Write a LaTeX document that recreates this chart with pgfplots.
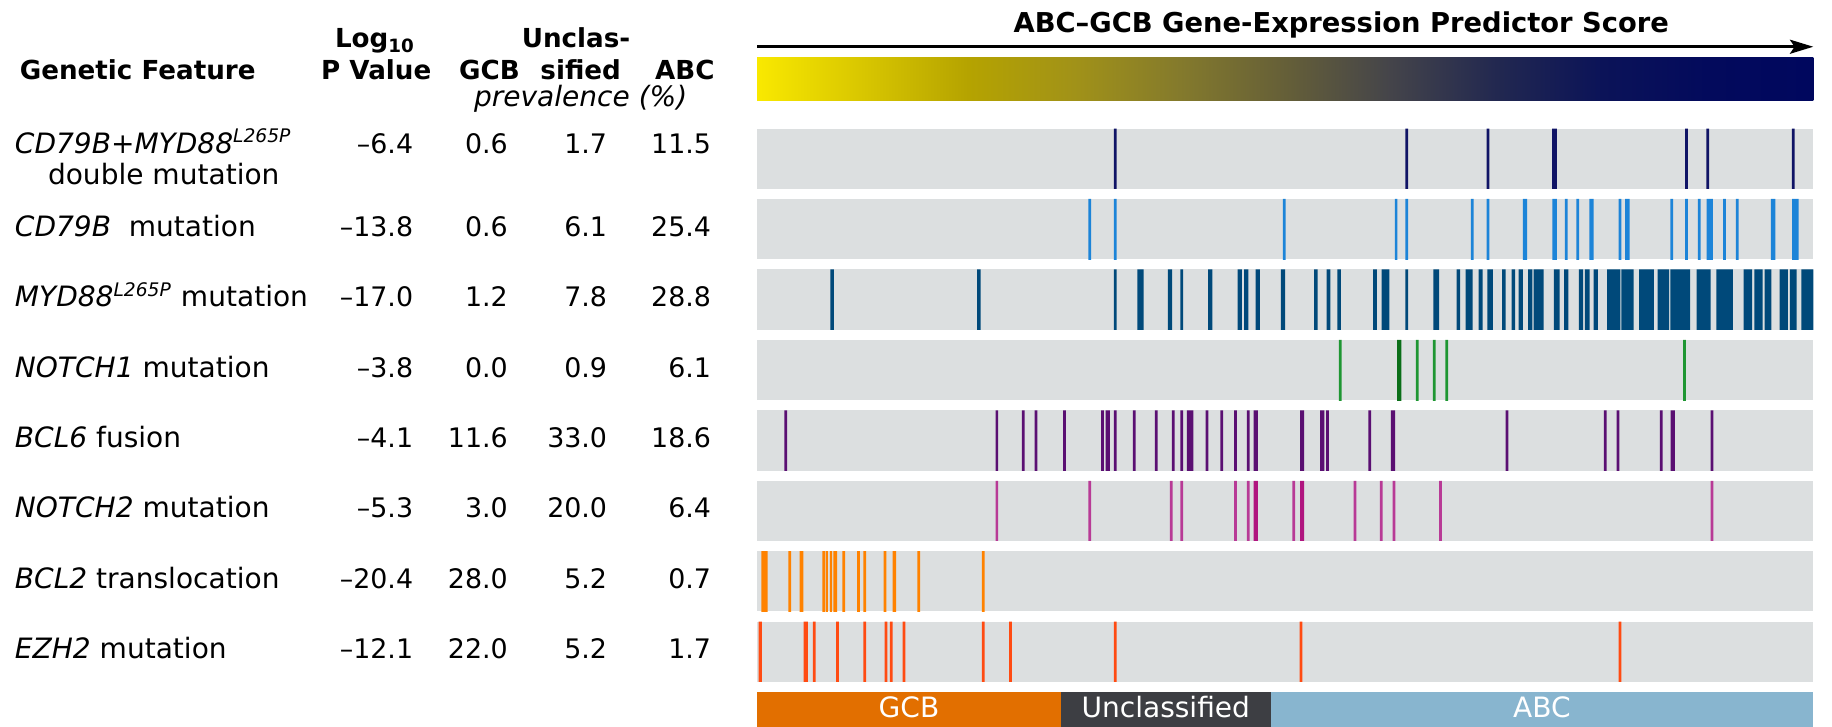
\documentclass[border=0pt]{standalone}
\usepackage{fontspec}
\setmainfont{DejaVu Sans}
\usepackage{pgfplots}
\pgfplotsset{compat=1.18}
\usetikzlibrary{arrows.meta}

\definecolor{rowgray}{HTML}{DCDFE0}
\definecolor{c1}{HTML}{101466}
\definecolor{c2}{HTML}{1C84D8}
\definecolor{c3}{HTML}{00497A}
\definecolor{c4}{HTML}{1E9632}
\definecolor{c4d}{HTML}{0A6E18}
\definecolor{c5}{HTML}{5A0F72}
\definecolor{c6}{HTML}{B83A96}
\definecolor{c6d}{HTML}{B0157F}
\definecolor{c7}{HTML}{FF8200}
\definecolor{c8}{HTML}{FF4B12}
\definecolor{gcbc}{HTML}{E26F00}
\definecolor{uncc}{HTML}{3D3E43}
\definecolor{abcc}{HTML}{88B5CF}

\definecolor{g0}{HTML}{F9E900}
\definecolor{g1}{HTML}{D8C600}
\definecolor{g2}{HTML}{B5A300}
\definecolor{g3}{HTML}{A19218}
\definecolor{g4}{HTML}{847A2C}
\definecolor{g5}{HTML}{655F38}
\definecolor{g6}{HTML}{44444A}
\definecolor{g7}{HTML}{222850}
\definecolor{g8}{HTML}{0B1358}
\definecolor{g9}{HTML}{030A5C}
\definecolor{g10}{HTML}{00075E}
\pgfdeclarehorizontalshading{abcgcb}{100bp}{color(0bp)=(g0); color(25bp)=(g0); color(30bp)=(g1); color(35bp)=(g2); color(40bp)=(g3); color(45bp)=(g4); color(50bp)=(g5); color(55bp)=(g6); color(60bp)=(g7); color(65bp)=(g8); color(70bp)=(g9); color(75bp)=(g10); color(100bp)=(g10)}

\newcommand{\hdr}{\fontsize{11.2}{13}\selectfont\bfseries}
\newcommand{\lab}{\fontsize{12}{14}\selectfont}
\newcommand{\num}{\fontsize{11.5}{13}\selectfont}
\newcommand{\cls}{\fontsize{12}{14}\selectfont}

\pgfplotsset{rowax/.style={scale only axis, width=452pt, height=25.75pt,
  xmin=0, xmax=100, ymin=0, ymax=1, hide axis, clip=true, anchor=north west},
  barstyle/.style={const plot, draw=none, y filter/.expression={1.2*y-0.2}}}

% #1 top (pt), #2 colour, #3 bar edges (0 = off, 1 = on), #4 extra plots
\newcommand{\barrow}[4]{%
  \begin{axis}[rowax, at={(324pt,-#1pt)}]
    \addplot[fill=rowgray, draw=none] coordinates {(0,1) (100,1)} \closedcycle;
    \addplot[barstyle, fill=#2] coordinates {#3} -- cycle;
    #4
  \end{axis}}

\newcommand{\trow}[6]{%
  \node[anchor=base west, font=\lab] at (12.4,#1) {#2};
  \node[anchor=base east, font=\num] at (354,#1) {#3};
  \node[anchor=base east, font=\num] at (435,#1) {#4};
  \node[anchor=base east, font=\num] at (520,#1) {#5};
  \node[anchor=base east, font=\num] at (609,#1) {#6};}

\begin{document}
\begin{tikzpicture}
\useasboundingbox (0pt,0pt) rectangle (784pt,-311pt);

\begin{scope}[x=0.5pt, y=-0.5pt, every node/.style={inner sep=0pt}]
  % header of table
  \node[anchor=base west, font=\hdr] at (16.6,68) {Genetic Feature};
  \node[anchor=base, font=\hdr] at (321,41) {Log\textsubscript{10}};
  \node[anchor=base, font=\hdr] at (322,68) {P Value};
  \node[anchor=base, font=\hdr] at (419,68) {GCB};
  \node[anchor=base, font=\hdr] at (493,41) {Unclas-};
  \node[anchor=base, font=\hdr] at (497,68) {sified};
  \node[anchor=base east, font=\hdr] at (612,68) {ABC};
  \node[anchor=base, font=\lab\itshape] at (497,91) {prevalence (\%)};
  % table rows
  \trow{131}{\textit{CD79B}+\textit{MYD88\textsuperscript{L265P}}}{–6.4}{0.6}{1.7}{11.5}
  \node[anchor=base west, font=\lab] at (40.7,158) {double mutation};
  \trow{202}{\textit{CD79B}\ \ mutation}{–13.8}{0.6}{6.1}{25.4}
  \trow{262.4}{\textit{MYD88\textsuperscript{L265P}} mutation}{–17.0}{1.2}{7.8}{28.8}
  \trow{322.7}{\textit{NOTCH1} mutation}{–3.8}{0.0}{0.9}{6.1}
  \trow{383}{\textit{BCL6} fusion}{–4.1}{11.6}{33.0}{18.6}
  \trow{443.3}{\textit{NOTCH2} mutation}{–5.3}{3.0}{20.0}{6.4}
  \trow{503.6}{\textit{BCL2} translocation}{–20.4}{28.0}{5.2}{0.7}
  \trow{563.9}{\textit{EZH2} mutation}{–12.1}{22.0}{5.2}{1.7}
  % title, arrow, gradient
  \node[anchor=base, font=\fontsize{11.7}{14}\selectfont\bfseries] at (1148,27.5) {ABC–GCB Gene-Expression Predictor Score};
  \draw[line width=1.3pt, -{Stealth[length=10pt,width=6pt,inset=2pt]}] (648,40) -- (1552,40);
  \shade[shading=abcgcb] (648,49.5) rectangle (1552,86.4);
\end{scope}

% CD79B + MYD88 double mutation
\barrow{55}{c1}{(0,0) (33.77,1) (34.03,0) (61.37,1) (61.63,0) (69.07,1) (69.33,0) (75.27,1) (75.73,0) (87.87,1) (88.13,0) (89.87,1) (90.13,0) (97.97,1) (98.23,0) (100,0)}{}
% CD79B
\barrow{85.15}{c2}{(0,0) (31.37,1)(31.63,0) (33.77,1)(34.03,0) (49.77,1)(50.03,0) (60.37,1)(60.63,0) (61.37,1)(61.63,0) (67.57,1)(67.83,0) (69.07,1)(69.33,0) (72.49,1)(72.91,0) (75.29,1)(75.71,0) (76.47,1)(76.73,0) (77.57,1)(77.83,0) (78.79,1)(79.21,0) (81.57,1)(81.83,0) (82.19,1)(82.61,0) (86.47,1)(86.73,0) (87.87,1)(88.13,0) (89.07,1)(89.33,0) (89.9,1)(90.5,0) (91.47,1)(91.73,0) (92.67,1)(92.93,0) (95.99,1)(96.41,0) (98.0,1)(98.6,0) (100,0)}{}
% MYD88
\barrow{115.3}{c3}{(0,0) (6.93,1)(7.27,0) (20.83,1)(21.17,0) (33.77,1)(34.03,0) (36.0,1)(36.6,0) (38.9,1)(39.3,0) (40.07,1)(40.33,0) (42.7,1)(43.1,0) (45.5,1)(45.9,0) (46.1,1)(46.5,0) (47.2,1)(47.6,0) (49.6,1)(50.0,0) (52.73,1)(53.07,0) (53.93,1)(54.27,0) (54.93,1)(55.27,0) (58.33,1)(58.67,0) (59.13,1)(59.87,0) (61.37,1)(61.63,0) (64.03,1)(64.57,0) (66.23,1)(66.57,0) (67.07,1)(67.74,0) (68.3,1)(68.7,0) (69.13,1)(69.67,0) (70.53,1)(70.87,0) (71.43,1)(71.77,0) (72.1,1)(72.5,0) (73.0,1)(73.4,0) (73.53,1)(74.47,0) (75.43,1)(75.97,0) (76.4,1)(76.8,0) (77.8,1)(78.2,0) (78.37,1)(78.83,0) (79.2,1)(79.6,0) (80.47,1)(81.74,0) (81.82,1)(82.99,0) (83.5,1)(84.9,0) (85.27,1)(86.34,0) (86.47,1)(88.34,0) (88.94,1)(90.27,0) (90.82,1)(92.39,0) (93.4,1)(94.2,0) (94.42,1)(95.19,0) (95.39,1)(96.02,0) (96.8,1)(97.6,0) (97.79,1)(98.42,0) (98.87,1)(100,0)}{}
% NOTCH1
\barrow{145.45}{c4}{(0,0) (55.07,1)(55.33,0) (62.37,1)(62.63,0) (63.97,1)(64.23,0) (65.17,1)(65.43,0) (87.67,1)(87.93,0) (100,0)}{\addplot[barstyle, fill=c4d] coordinates {(0,0) (60.6,1) (61.0,0) (100,0)} -- cycle;}
% BCL6
\barrow{175.6}{c5}{(0,0) (2.57,1)(2.83,0) (22.57,1)(22.83,0) (25.07,1)(25.33,0) (26.27,1)(26.53,0) (28.97,1)(29.23,0) (32.57,1)(32.83,0) (33.0,1)(33.4,0) (33.77,1)(34.03,0) (35.57,1)(35.83,0) (37.67,1)(37.93,0) (39.27,1)(39.53,0) (40.07,1)(40.33,0) (40.7,1)(41.3,0) (42.47,1)(42.73,0) (43.87,1)(44.13,0) (45.17,1)(45.43,0) (46.37,1)(46.63,0) (47.0,1)(47.4,0) (51.4,1)(51.8,0) (53.3,1)(53.7,0) (53.87,1)(54.13,0) (57.87,1)(58.13,0) (60.0,1)(60.4,0) (70.87,1)(71.13,0) (80.17,1)(80.43,0) (81.37,1)(81.63,0) (85.47,1)(85.73,0) (86.5,1)(86.9,0) (90.27,1)(90.53,0) (100,0)}{}
% NOTCH2
\barrow{205.75}{c6}{(0,0) (22.57,1)(22.83,0) (31.37,1)(31.63,0) (39.07,1)(39.33,0) (40.07,1)(40.33,0) (45.17,1)(45.43,0) (46.37,1)(46.63,0) (50.67,1)(50.93,0) (56.47,1)(56.73,0) (58.97,1)(59.23,0) (60.17,1)(60.43,0) (64.57,1)(64.83,0) (90.27,1)(90.53,0) (100,0)}{\addplot[barstyle, fill=c6d] coordinates {(0,0) (47.0,1) (47.4,0) (51.4,1) (51.8,0) (100,0)} -- cycle;}
% BCL2
\barrow{235.9}{c7}{(0,0) (0.4,1)(1.0,0) (2.97,1)(3.23,0) (4.03,1)(4.37,0) (6.19,1)(6.41,0) (6.49,1)(6.71,0) (6.89,1)(7.11,0) (7.23,1)(7.57,0) (8.07,1)(8.33,0) (9.47,1)(9.73,0) (10.07,1)(10.33,0) (11.97,1)(12.23,0) (12.83,1)(13.17,0) (15.17,1)(15.43,0) (21.27,1)(21.53,0) (100,0)}{}
% EZH2
\barrow{266.05}{c8}{(0,0) (0.15,1)(0.45,0) (4.4,1)(4.8,0) (5.27,1)(5.53,0) (7.47,1)(7.73,0) (10.07,1)(10.33,0) (12.07,1)(12.33,0) (12.57,1)(12.83,0) (13.77,1)(14.03,0) (21.27,1)(21.53,0) (23.87,1)(24.13,0) (33.77,1)(34.03,0) (51.37,1)(51.63,0) (81.57,1)(81.83,0) (100,0)}{}

% class bar
\begin{axis}[scale only axis, width=452pt, height=14.75pt, xmin=0, xmax=100,
  ymin=0, ymax=1, hide axis, at={(324pt,-311pt)}, anchor=south west]
  \addplot[fill=gcbc, draw=none] coordinates {(0,1) (28.76,1)} \closedcycle;
  \addplot[fill=uncc, draw=none] coordinates {(28.76,1) (48.62,1)} \closedcycle;
  \addplot[fill=abcc, draw=none] coordinates {(48.62,1) (100,1)} \closedcycle;
  \node[anchor=base, inner sep=0pt, text=white, font=\cls] at (axis cs:14.38,0.27) {GCB};
  \node[anchor=base, inner sep=0pt, text=white, font=\cls] at (axis cs:38.69,0.27) {Unclassified};
  \node[anchor=base, inner sep=0pt, text=white, font=\cls] at (axis cs:74.31,0.27) {ABC};
\end{axis}
\end{tikzpicture}
\end{document}
